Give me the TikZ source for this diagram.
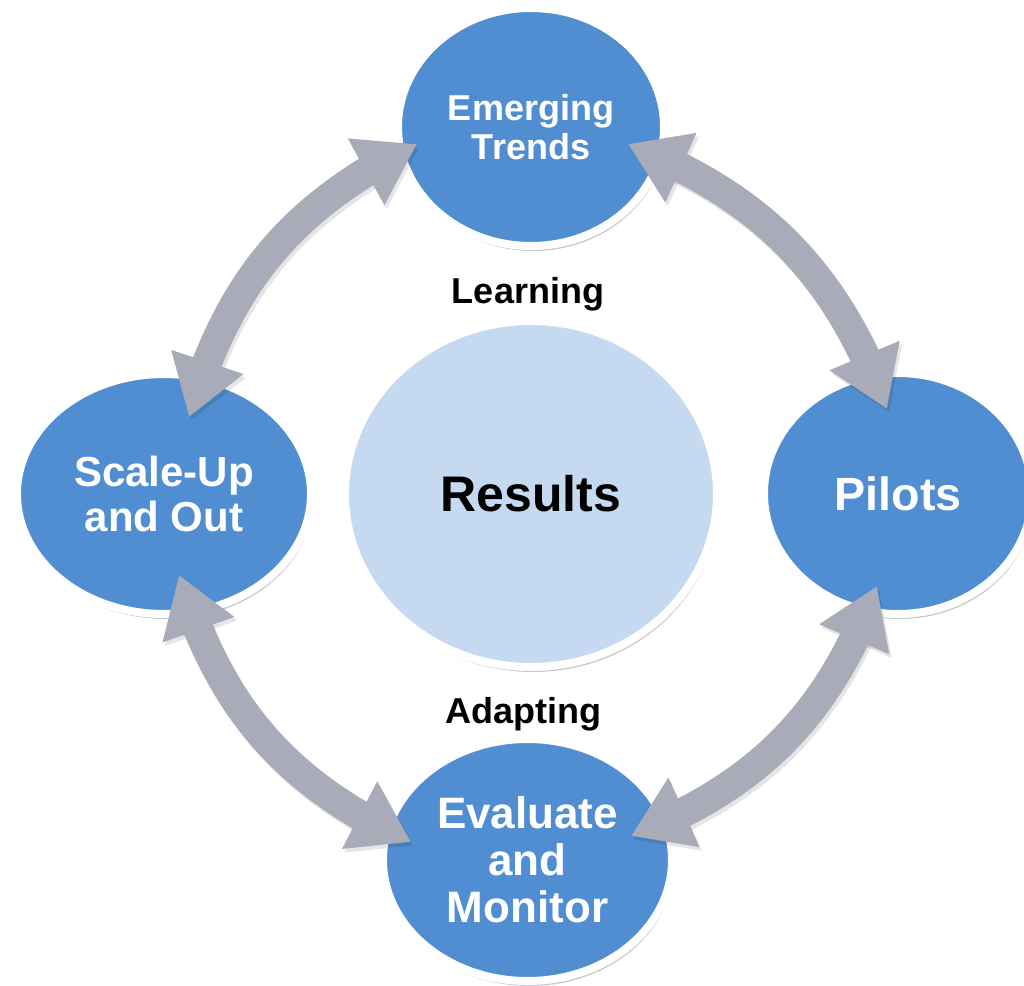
\documentclass[tikz,border=0pt]{standalone}
\usepackage{fontspec}
\setmainfont{Liberation Sans}
\usetikzlibrary{shapes.geometric,arrows.meta,bending,shadows}
\definecolor{nodeblue}{HTML}{508ED1}
\definecolor{centerblue}{HTML}{C5D9F0}
\definecolor{arrowgray}{HTML}{A9ABB8}
\tikzset{
  stage/.style={ellipse, inner sep=0pt, fill=nodeblue, draw=white, line width=4pt,
    text=white, align=center,
    drop shadow={shadow xshift=1pt, shadow yshift=-2.5pt, opacity=0.22, fill=black}},
  core/.style={ellipse, inner sep=0pt, fill=centerblue, draw=white, line width=4pt,
    text=black, align=center,
    drop shadow={shadow xshift=1pt, shadow yshift=-2.5pt, opacity=0.22, fill=black}},
  cyc/.style={draw=arrowgray, line width=15pt, >={Triangle[width=36pt,length=29pt]}, <->},
  cycshadow/.style={draw=black, draw opacity=0.10, fill opacity=0.10, line width=15pt,
    >={Triangle[width=36pt,length=29pt]}, <->,
    transform canvas={shift={(1.2pt,-1.8pt)}}},
  phase/.style={text=black, font=\bfseries\fontsize{18}{20}\selectfont, anchor=base}
}
\begin{document}
\begin{tikzpicture}[x=0.5pt,y=-0.5pt]
\useasboundingbox (0,0) rectangle (1024,986);
\fill[white] (0,0) rectangle (1024,986);

% centre
\node[core, minimum width=186pt, minimum height=173pt,
      font=\bfseries\fontsize{25}{28}\selectfont] (RE) at (531,494) {Results};

% stages
\node[stage, minimum width=133pt, minimum height=119pt,
      font=\bfseries\fontsize{18}{19.5}\selectfont] (ET) at (531,127) {Emerging\\Trends};
\node[stage, minimum width=147pt, minimum height=120pt,
      font=\bfseries\fontsize{21}{22.5}\selectfont] (SU) at (164,494) {Scale-Up\\and Out};
\node[stage, minimum width=134pt, minimum height=120.5pt,
      font=\bfseries\fontsize{23.3}{26}\selectfont] (PI) at (898,493.5) {Pilots};
\node[stage, minimum width=144.5pt, minimum height=121pt,
      font=\bfseries\fontsize{22}{23.5}\selectfont] (EM) at (527.5,860) {Evaluate\\and\\Monitor};

% arrow end points
\coordinate (tlA) at (417,144);
\coordinate (tlB) at (189,417);
\coordinate (trA) at (628,144);
\coordinate (trB) at (887,409);
\coordinate (blA) at (179,575);
\coordinate (blB) at (411,842);
\coordinate (brA) at (877,586);
\coordinate (brB) at (631,836);

% shadows of arrows
\draw[cycshadow] (tlA) to[bend right=24] (tlB);
\draw[cycshadow] (trA) to[bend left=24] (trB);
\draw[cycshadow] (blA) to[bend right=24] (blB);
\draw[cycshadow] (brA) to[bend left=24] (brB);

% arrows
\draw[cyc] (tlA) to[bend right=24] (tlB);
\draw[cyc] (trA) to[bend left=24] (trB);
\draw[cyc] (blA) to[bend right=24] (blB);
\draw[cyc] (brA) to[bend left=24] (brB);

% labels
\node[phase] (LE) at (528,303) {Learning};
\node[phase] (AD) at (523,723) {Adapting};
\end{tikzpicture}
\end{document}
